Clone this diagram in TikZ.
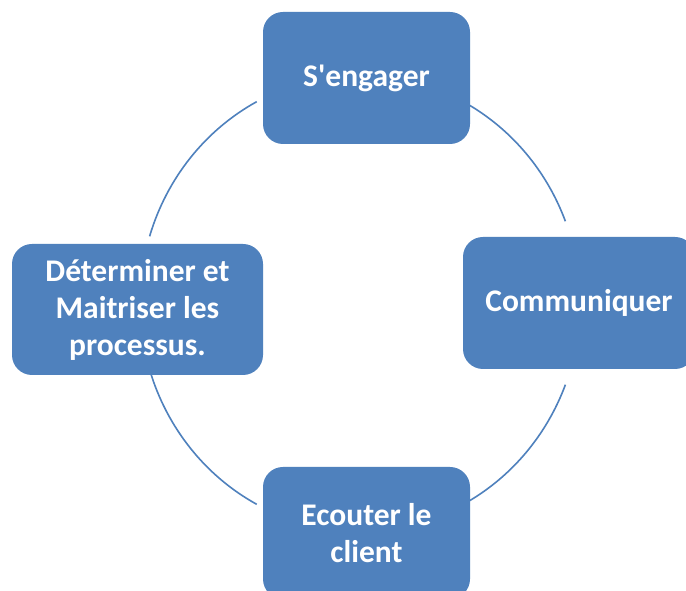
\documentclass[tikz,border=0pt]{standalone}
\usepackage{fontspec}
\setmainfont{Carlito}[Ligatures=TeXOff]
\definecolor{officeblue}{HTML}{4F81BD}
\begin{document}
\begin{tikzpicture}[x=1pt,y=1pt,
  box/.style={fill=officeblue, rounded corners=20pt, inner sep=0pt, align=center,
    text=white, font=\bfseries\fontsize{31.5}{37}\selectfont, minimum height=132pt},
  cycleline/.style={draw=officeblue, line width=1.6pt}]
\clip (0,0) rectangle (686,591);
\fill[white] (0,0) rectangle (686,591);
\coordinate (c) at (360,288);
\draw[cycleline] (c) ++(21:220pt and 228pt) arc[start angle=21, end angle=61, x radius=220pt, y radius=228pt];
\draw[cycleline] (c) ++(118:220pt and 228pt) arc[start angle=118, end angle=163, x radius=220pt, y radius=228pt];
\draw[cycleline] (c) ++(197:220pt and 228pt) arc[start angle=197, end angle=242, x radius=220pt, y radius=228pt];
\draw[cycleline] (c) ++(299:220pt and 228pt) arc[start angle=299, end angle=339, x radius=220pt, y radius=228pt];
\node[box, minimum width=207pt] (top) at (366.5,513) {S'engager};
\node[box, minimum width=232pt] (right) at (579,288) {Communiquer};
\node[box, minimum width=207pt] (bottom) at (366.5,58) {Ecouter le\\client};
\node[box, minimum width=251pt, minimum height=131pt] (left) at (137.5,281.5) {Déterminer et\\Maitriser les\\processus.};
\end{tikzpicture}
\end{document}
